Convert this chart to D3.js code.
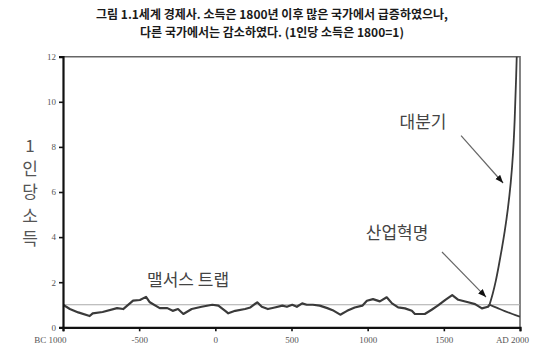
<!DOCTYPE html>
<html><head><meta charset="utf-8">
<script src="https://cdn.jsdelivr.net/npm/d3@7"></script>
<style>
body{margin:0;background:#fff;}
svg{display:block;}
</style></head>
<body>
<svg id="c" width="548" height="361"></svg>
<script>
// ---- data ----
const titleLines = ["그림 1.1세계 경제사. 소득은 1800년 이후 많은 국가에서 급증하였으나,",
                    "다른 국가에서는 감소하였다. (1인당 소득은 1800=1)"];
const yLabelChars = ["1","인","당","소","득"];
const yTicks = [0,2,4,6,8,10,12];
const xTicks = [-1000,-500,0,500,1000,1500,2000];
const xTickLabels = ["BC 1000","-500","0","500","1000","1500","AD 2000"];
// Malthusian era income (1800 = 1)
const malthusYears  = [-1000,-955,-900,-825,-805,-740,-645,-605,-540,-495,-455,-430,-365,-315,-280,-245,-210,-155,-90,-20,20,65,85,130,195,230,275,305,345,390,440,470,505,535,570,600,640,685,735,770,820,865,915,965,995,1035,1080,1125,1160,1200,1245,1290,1310,1375,1420,1460,1510,1555,1595,1660,1705,1750,1790,1800];
const malthusValues = [1.00,0.81,0.66,0.50,0.62,0.68,0.85,0.81,1.18,1.21,1.35,1.11,0.85,0.85,0.73,0.81,0.59,0.81,0.91,1.00,0.96,0.73,0.62,0.73,0.81,0.88,1.11,0.91,0.81,0.88,0.96,0.91,1.00,0.91,1.06,1.00,1.00,0.96,0.85,0.76,0.56,0.73,0.88,0.96,1.18,1.25,1.15,1.33,1.06,0.88,0.84,0.73,0.59,0.59,0.78,0.96,1.22,1.43,1.22,1.11,1.03,0.84,0.91,1.00];
// Great divergence: rich countries
const riseYears  = [1800,1820,1840,1860,1880,1900,1920,1940,1955,1965,1975,1985,2000];
const riseValues = [1.0,1.45,2.0,2.7,3.45,4.25,5.2,6.4,7.7,9.1,11.1,13.5,17];
// Poor countries
const fallYears  = [1800,1850,1900,1950,2000];
const fallValues = [1.0,0.86,0.72,0.59,0.47];
// annotations (in data units)
const notes = [
  {text:"대분기",   tx:1363, ty:9.1, ax0:1613, ay0:8.5, ax1:1889, ay1:6.4},
  {text:"산업혁명", tx:1193, ty:4.18, ax0:1488, ay0:3.34, ax1:1777, ay1:1.34},
  {text:"맬서스 트랩", tx:-179, ty:2.1}
];

// ---- chart ----
const svg = d3.select("#c");
const x = d3.scaleLinear().domain([-1000,2000]).range([63,520]);
const y = d3.scaleLinear().domain([0,12]).range([327.3,56.7]);

// title
svg.append("g").selectAll("text").data(titleLines).join("text")
  .attr("x",272).attr("y",(d,i)=>19+i*18)
  .attr("text-anchor","middle")
  .attr("font-family","'Noto Sans CJK KR', sans-serif")
  .attr("font-weight","bold").attr("font-size",12).attr("fill","#1a1a1a")
  .text(d=>d);

// y label stacked
svg.append("g").selectAll("text").data(yLabelChars).join("text")
  .attr("x",30).attr("y",(d,i)=>152+i*23.2)
  .attr("text-anchor","middle")
  .attr("font-family","'Noto Sans CJK KR', sans-serif")
  .attr("font-size",17).attr("fill","#555")
  .text(d=>d);

// clip
svg.append("clipPath").attr("id","plot").append("rect")
  .attr("x",x(-1000)).attr("y",y(12)).attr("width",x(2000)-x(-1000)).attr("height",y(0)-y(12));

// frame top & right
svg.append("path")
  .attr("d",`M${x(-1000)},${y(12)}H${x(2000)}V${y(0)}`)
  .attr("fill","none").attr("stroke","#666").attr("stroke-width",1.6);

// reference line at 1
svg.append("line")
  .attr("x1",x(-1000)).attr("x2",x(2000)).attr("y1",y(1)).attr("y2",y(1))
  .attr("stroke","#aaa").attr("stroke-width",1);

const g = svg.append("g").attr("clip-path","url(#plot)");
const line = d3.line().x(d=>x(d[0])).y(d=>y(d[1]));
g.append("path").datum(malthusYears.map((t,i)=>[t,malthusValues[i]]))
  .attr("d",line).attr("fill","none").attr("stroke","#3a3a3a").attr("stroke-width",2.2).attr("stroke-linejoin","round");
g.append("path").datum(fallYears.map((t,i)=>[t,fallValues[i]]))
  .attr("d",line.curve(d3.curveMonotoneX)).attr("fill","none").attr("stroke","#3a3a3a").attr("stroke-width",1.8);
g.append("path").datum(riseYears.map((t,i)=>[t,riseValues[i]]))
  .attr("d",d3.line().x(d=>x(d[0])).y(d=>y(d[1])).curve(d3.curveBasis))
  .attr("fill","none").attr("stroke","#3a3a3a").attr("stroke-width",1.8);

// axes
const ya = svg.append("g").attr("transform",`translate(${x(-1000)},0)`)
  .call(d3.axisLeft(y).tickValues(yTicks).tickSize(4).tickPadding(3).tickFormat(d3.format("d")));
const xa = svg.append("g").attr("transform",`translate(0,${y(0)})`)
  .call(d3.axisBottom(x).tickValues(xTicks).tickSize(4).tickPadding(5).tickFormat((d,i)=>xTickLabels[i]));
[ya,xa].forEach(a=>{
  a.select(".domain").attr("stroke","#111").attr("stroke-width",2.2);
  a.selectAll(".tick line").attr("stroke","#111").attr("stroke-width",1.6);
  a.selectAll(".tick text").attr("font-family","'Liberation Serif', serif").attr("font-size",9).attr("fill","#555");
});
xa.selectAll(".tick text").filter((d,i)=>i===0).attr("text-anchor","end").attr("dx",3);
xa.selectAll(".tick text").filter((d,i)=>i===xTicks.length-1).attr("dx",-8);

// annotations
svg.append("defs").append("marker").attr("id","ah")
  .attr("viewBox","0 0 10 10").attr("refX",10).attr("refY",5)
  .attr("markerWidth",8).attr("markerHeight",8).attr("orient","auto")
  .attr("markerUnits","userSpaceOnUse")
  .append("path").attr("d","M0,1L10,5L0,9Z").attr("fill","#111");
const an = svg.append("g");
an.selectAll("text").data(notes).join("text")
  .attr("x",d=>x(d.tx)).attr("y",d=>y(d.ty)+6)
  .attr("text-anchor","middle")
  .attr("font-family","'Noto Sans CJK KR', sans-serif")
  .attr("font-size",17).attr("fill","#444")
  .text(d=>d.text);
an.selectAll("line").data(notes.filter(d=>d.ax0!==undefined)).join("line")
  .attr("x1",d=>x(d.ax0)).attr("y1",d=>y(d.ay0))
  .attr("x2",d=>x(d.ax1)).attr("y2",d=>y(d.ay1))
  .attr("stroke","#666").attr("stroke-width",1.2).attr("marker-end","url(#ah)");
</script>
</body></html>
